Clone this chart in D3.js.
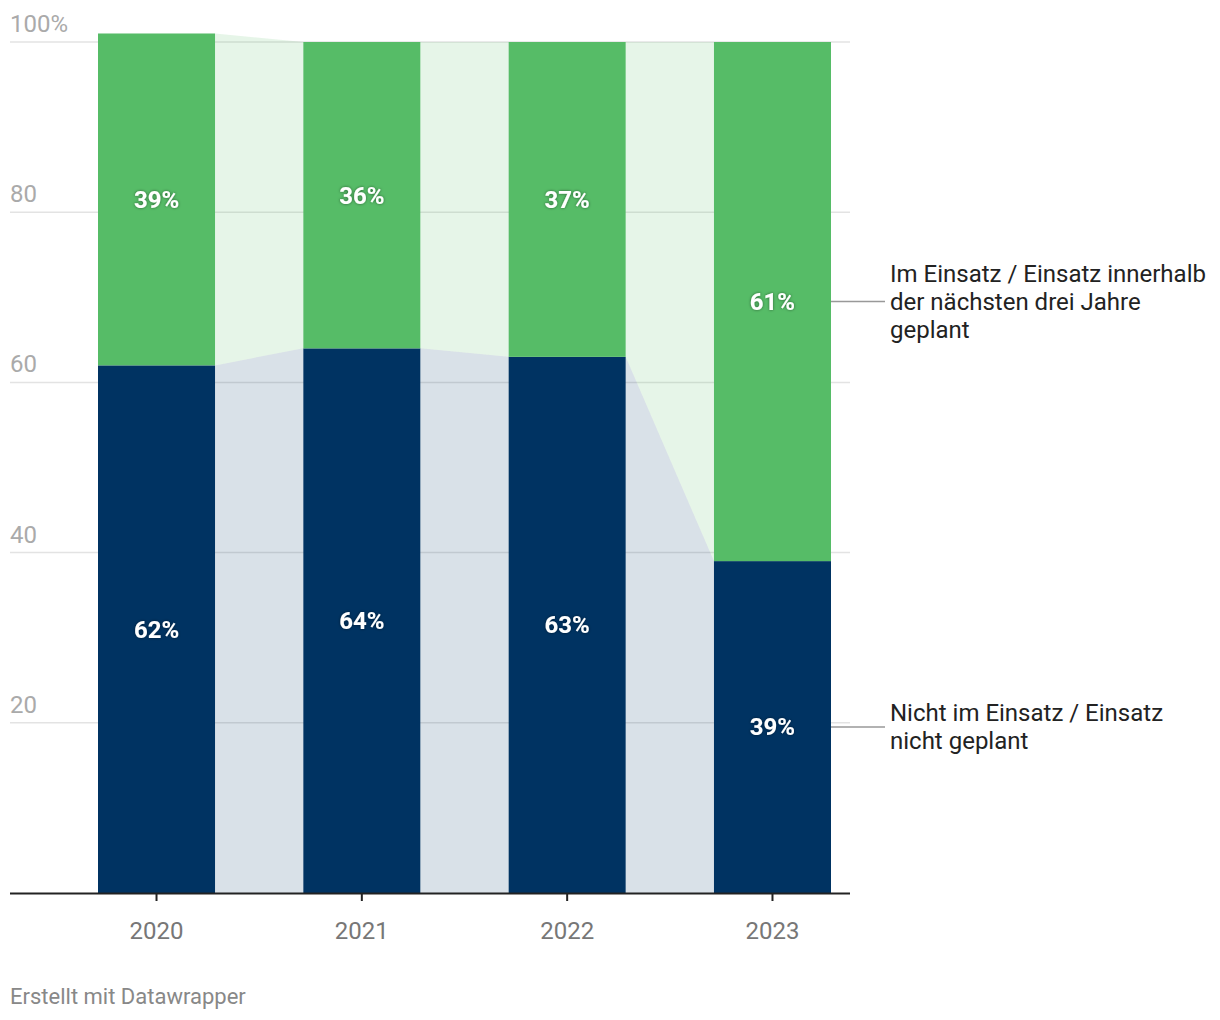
<!DOCTYPE html>
<html><head><meta charset="utf-8">
<script src="https://cdn.jsdelivr.net/npm/d3@7"></script>
<style>
body{margin:0;background:#fff;font-family:Roboto,"Noto Sans",sans-serif;}
</style></head>
<body><svg id="c" width="1220" height="1020"></svg>
<script>
const years = ["2020","2021","2022","2023"];
const notUsed = [62,64,63,39];
const used = [39,36,37,61];
const yTicks = [20,40,60,80,100];
const seriesNames = ["Nicht im Einsatz / Einsatz nicht geplant","Im Einsatz / Einsatz innerhalb der nächsten drei Jahre geplant"];
const labelLines = [["Nicht im Einsatz / Einsatz","nicht geplant"],["Im Einsatz / Einsatz innerhalb","der nächsten drei Jahre","geplant"]];
const colors = ["#003362","#56bc67"];

const svg = d3.select("#c");
const x = d3.scaleBand().domain(years).range([98,831]).paddingInner(0.43).paddingOuter(0);
const y = d3.scaleLinear().domain([0,100]).range([893,42]);

const data = years.map((yr,i)=>({year:yr, a:notUsed[i], b:used[i]}));
const stack = d3.stack().keys(["a","b"])(data);

// gridlines
const grid = svg.append("g");
yTicks.forEach(t=>{
  grid.append("line").attr("x1",10).attr("x2",850).attr("y1",y(t)).attr("y2",y(t))
    .attr("stroke","#e3e3e3").attr("stroke-width",1.5);
  grid.append("text").attr("x",10).attr("y",y(t)-10).text(t===100? "100%": t)
    .attr("fill","#aaa").attr("font-size",24);
});

// connecting areas
stack.forEach((s,si)=>{
  for(let i=0;i<years.length-1;i++){
    const x1 = x(years[i])+x.bandwidth(), x2 = x(years[i+1]);
    const p = [[x1,y(s[i][1])],[x2,y(s[i+1][1])],[x2,y(s[i+1][0])],[x1,y(s[i][0])]];
    svg.append("path").attr("d", d3.line()(p)+"Z").attr("fill",colors[si]).attr("fill-opacity",0.15);
  }
});

// bars
stack.forEach((s,si)=>{
  svg.append("g").selectAll("rect").data(s).join("rect")
    .attr("x",d=>x(d.data.year)).attr("width",x.bandwidth())
    .attr("y",d=>y(d[1])).attr("height",d=>y(d[0])-y(d[1]))
    .attr("fill",colors[si]);
});

// value labels
const defs = svg.append("defs");
const f = defs.append("filter").attr("id","sh").attr("x","-20%").attr("y","-30%").attr("width","140%").attr("height","160%");
f.append("feDropShadow").attr("dx",0).attr("dy",0).attr("stdDeviation",1.5).attr("flood-color","#000").attr("flood-opacity",0.5);
stack.forEach((s,si)=>{
  svg.append("g").selectAll("text").data(s).join("text")
    .attr("x",d=>x(d.data.year)+x.bandwidth()/2)
    .attr("y",d=>y((d[0]+d[1])/2))
    .attr("dy","0.35em").attr("text-anchor","middle")
    .attr("fill","#fff").attr("font-weight","bold").attr("font-size",24)
    .attr("filter","url(#sh)")
    .text(d=>(d[1]-d[0])+"%");
});

// x axis
svg.append("line").attr("x1",10).attr("x2",850).attr("y1",893.5).attr("y2",893.5).attr("stroke","#222").attr("stroke-width",2);
years.forEach(yr=>{
  const cx = x(yr)+x.bandwidth()/2;
  svg.append("line").attr("x1",cx).attr("x2",cx).attr("y1",893).attr("y2",901).attr("stroke","#222").attr("stroke-width",2);
  svg.append("text").attr("x",cx).attr("y",939).attr("text-anchor","middle").attr("fill","#777").attr("font-size",24).text(yr);
});

// series labels
const last = years.length-1;
stack.forEach((s,si)=>{
  const cy = y((s[last][0]+s[last][1])/2);
  svg.append("line").attr("x1",x(years[last])+x.bandwidth()).attr("x2",885).attr("y1",cy).attr("y2",cy).attr("stroke","#999").attr("stroke-width",1.5);
  const lines = labelLines[si];
  const lh = 28;
  const t = svg.append("text").attr("x",890).attr("fill","#222").attr("font-size",24);
  lines.forEach((l,li)=>{
    t.append("tspan").attr("x",890).attr("y",cy - (lines.length-1)*lh/2 + li*lh).attr("dy","0.35em").text(l);
  });
});

svg.append("text").attr("x",10).attr("y",1004).attr("fill","#888").attr("font-size",22).text("Erstellt mit Datawrapper");
</script></body></html>
